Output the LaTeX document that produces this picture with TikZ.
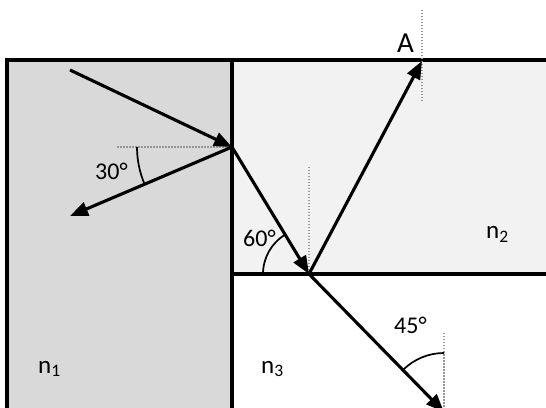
\documentclass[tikz,border=0pt]{standalone}
\usepackage{fontspec}
\setmainfont{Carlito}
\usetikzlibrary{arrows.meta}
\definecolor{glass}{RGB}{217,217,217}
\definecolor{water}{RGB}{242,242,242}
\definecolor{guide}{RGB}{150,150,150}

\begin{document}
\begin{tikzpicture}[x=1pt,y=1pt,
    wall/.style={line width=3.2pt},
    ray/.style={line width=3.1pt, -{Triangle[length=18pt,width=14pt]}},
    normal/.style={guide, line width=2.4pt, dash pattern=on 1.5pt off 1.5pt},
    anglemark/.style={line width=1.7pt},
    lbl/.style={inner sep=0pt, anchor=base west, font=\fontsize{24}{24}\selectfont}]
    \useasboundingbox (0,0) rectangle (546,407);

    % Media
    \fill[glass] (7,-10) rectangle (232,347);
    \fill[water] (232,133) rectangle (546,347);
    \draw[wall] (7,-10) -- (7,347) -- (546,347);
    \draw[wall] (232,-10) -- (232,347);
    \draw[wall] (232,133) -- (546,133);

    % Points of the rays
    \coordinate (S) at (70,337);
    \coordinate (P) at (232,260);
    \coordinate (R) at (70,191);
    \coordinate (Q) at (309,133);
    \coordinate (A) at (422,346);
    \coordinate (B) at (444,-5);
    \coordinate (C) at (444,-4);

    % Normals (dotted)
    \coordinate (Pn) at (117,260);
    \coordinate (Qn) at (309,240);
    \coordinate (An1) at (422,397);
    \coordinate (An2) at (422,304);
    \coordinate (Cn) at (444,74);
    \draw[normal] (Pn) -- (P);
    \draw[normal] (Qn) -- (Q);
    \draw[normal] (An1) -- (An2);
    \draw[normal] (Cn) -- (C);

    % Rays
    \draw[ray] (S) -- (P);
    \draw[ray] (P) -- (R);
    \draw[ray] (P) -- (Q);
    \draw[ray] (Q) -- (A);
    \draw[ray] (Q) -- (B);

    % Angle marks
    \draw[anglemark] (P) ++(180:95) arc[start angle=180, end angle=203, radius=95];
    \draw[anglemark] (Q) ++(180:46) arc[start angle=180, end angle=121, radius=46];
    \draw[anglemark] (C) ++(90:58) arc[start angle=90, end angle=135, radius=58];

    % Labels
    \node[lbl] (a30) at (95,227) {30°};
    \node[lbl] (a60) at (243,160) {60°};
    \node[lbl] (a45) at (394,74) {45°};
    \node[lbl, font=\fontsize{29}{29}\selectfont] (labA) at (397,354) {A};
    \foreach \name/\i/\x/\y in {n1/1/38/34, n2/2/486/168, n3/3/261/34} {
        \node[lbl, font=\fontsize{25}{25}\selectfont] (\name) at (\x,\y) {n\textsubscript{\i}};
    }
\end{tikzpicture}
\end{document}
